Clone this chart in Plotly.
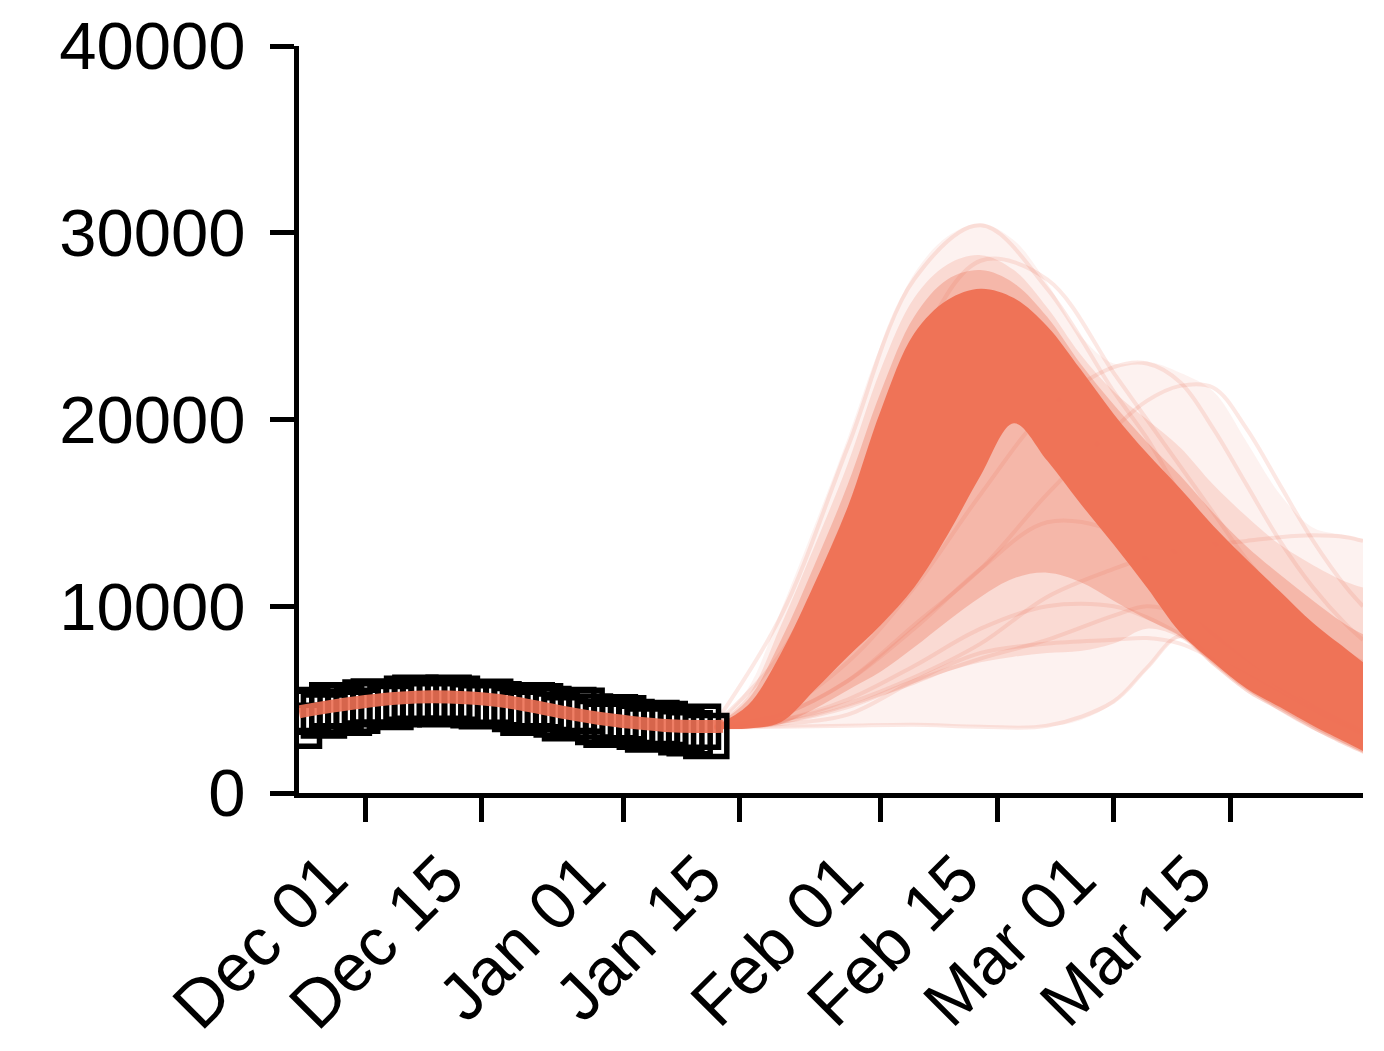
import plotly.graph_objects as go
import pandas as pd

# ---------------- data ----------------
obs_start = "2022-11-23"
obs_values = [3600, 4450, 4350, 4150, 4700, 4650, 4300, 4400, 4850, 4900,
              4750, 4600, 4750, 5050, 5100, 4950, 4800, 4750, 5100, 5050,
              4850, 4700, 4650, 4880, 4750, 4700, 4500, 4300, 4700, 4650,
              4500, 4200, 4000, 4450, 4400, 4100, 3800, 3650, 4050, 4000,
              3800, 3550, 3400, 3750, 3700, 3500, 3250, 3200, 3550, 3050]

fit_dates = ["2022-11-23", "2022-11-27", "2022-12-01", "2022-12-05", "2022-12-09",
             "2022-12-13", "2022-12-17", "2022-12-21", "2022-12-25", "2022-12-29",
             "2023-01-02", "2023-01-06", "2023-01-10", "2023-01-13"]
fit_values = [4350, 4650, 4900, 5080, 5150, 5100, 4950, 4650, 4300, 4000,
              3780, 3620, 3560, 3580]

fc_dates = ["2023-01-12", "2023-01-16", "2023-01-20", "2023-01-24", "2023-01-28",
            "2023-02-01", "2023-02-05", "2023-02-09", "2023-02-13", "2023-02-17",
            "2023-02-21", "2023-02-25", "2023-03-01", "2023-03-05", "2023-03-09",
            "2023-03-13", "2023-03-17", "2023-03-21", "2023-03-25", "2023-03-29",
            "2023-03-31"]
# outer (faint) envelope of all trajectories
faint_upper = [3700, 5600, 9800, 14300, 19000, 24000, 27800, 29800, 30500, 29600,
               27300, 24500, 23000, 23100, 22500, 21500, 18800, 16000, 14200, 13800, 13600]
faint_lower = [3450, 3450, 3500, 3550, 3600, 3650, 3650, 3600, 3550, 3500,
               3550, 3900, 4800, 6600, 8300, 6800, 5400, 4400, 3400, 2500, 2100]
# light envelope
semi_upper = [3650, 5200, 9000, 13200, 17600, 22700, 26500, 28300, 28800, 28000,
              26000, 23500, 21500, 20000, 18500, 16500, 14800, 13300, 12200, 11300, 11000]
semi_lower = [3450, 3500, 3700, 4100, 4600, 5200, 5800, 6500, 7000, 7300,
              7500, 7600, 8000, 8800, 8300, 6800, 5400, 4400, 3400, 2500, 2100]
# medium envelope
mid_upper = [3620, 5000, 8200, 12200, 16500, 21500, 25500, 27500, 28000, 27300,
             25500, 23000, 20800, 18800, 17000, 15000, 13200, 11700, 10300, 9000, 8500]
mid_lower = [3450, 3450, 3700, 4500, 5500, 6500, 7800, 9200, 10500, 11500,
             11800, 11300, 10300, 9300, 8400, 6900, 5500, 4500, 3500, 2600, 2150]
# dense core
dense_upper = [3600, 4700, 7500, 11200, 15300, 20500, 24600, 26400, 27000, 26500,
               25000, 22700, 20300, 18200, 16300, 14300, 12500, 10800, 9100, 7700, 7000]
dense_lower = [3450, 3450, 3800, 5500, 7300, 9000, 11000, 13800, 17000, 19800,
               17800, 15500, 13300, 11000, 8600, 7000, 5600, 4600, 3600, 2700, 2250]

# individual trajectories visible outside the core
traj_dates = ["2023-01-12", "2023-01-20", "2023-01-28", "2023-02-05", "2023-02-13",
              "2023-02-21", "2023-03-01", "2023-03-05", "2023-03-09", "2023-03-13",
              "2023-03-17", "2023-03-21", "2023-03-25", "2023-03-29", "2023-03-31"]
traj_a = [3500, 3550, 3600, 3650, 3550, 3600, 4900, 6700, 8400, 7100, 5700, 4500, 3500, 2700, 2300]
traj_b = [3600, 4500, 7000, 11000, 16000, 20500, 22800, 23000, 22000, 19500, 16500, 13500, 11000, 9000, 8200]
traj_c = [3550, 4200, 6000, 9000, 12000, 16000, 19500, 21000, 21800, 21700, 19500, 16500, 13500, 11000, 10000]
traj_d = [3500, 3900, 4800, 6200, 8000, 10500, 12000, 12600, 13000, 13300, 13500, 13700, 13800, 13700, 13500]
traj_e = [3700, 9500, 18500, 27500, 30400, 27000, 21500, 19000, 16000, 13500, 11000, 9000, 7500, 6200, 5500]
traj_f = [3500, 3900, 5000, 6800, 8800, 10000, 10000, 9400, 8500, 7500, 6500, 5500, 4500, 3600, 3200]
traj_g = [3500, 3700, 4200, 6000, 7500, 8000, 8200, 8300, 8000, 7200, 6300, 5300, 4300, 3500, 3100]
traj_h = [3550, 5500, 11000, 18000, 22000, 21500, 17500, 15000, 12500, 10500, 8600, 7000, 5600, 4600, 4100]
traj_i = [3650, 7500, 15000, 23500, 28500, 27500, 22500, 20000, 17500, 15000, 12500, 10500, 8800, 7500, 7000]
traj_j = [3500, 4200, 6000, 8800, 12000, 14500, 14000, 12500, 10500, 8500, 7000, 5700, 4600, 3700, 3300]
traj_k = [3500, 3800, 4600, 6000, 7200, 8200, 9500, 10000, 9600, 8500, 7200, 6000, 4800, 3800, 3400]
trajectories = [traj_a, traj_b, traj_c, traj_d, traj_e, traj_f, traj_g, traj_h,
                traj_i, traj_j, traj_k]

y_ticks = [0, 10000, 20000, 30000, 40000]
x_ticks = ["2022-12-01", "2022-12-15", "2023-01-01", "2023-01-15",
           "2023-02-01", "2023-02-15", "2023-03-01", "2023-03-15"]
x_range = ["2022-11-23", "2023-03-31"]

# ---------------- style ----------------
RED = "rgb(238,113,85)"
FONT = "Liberation Sans, Arial, sans-serif"


def rgba(a):
    return f"rgba(238,113,85,{a})"


obs_dates = pd.date_range(obs_start, periods=len(obs_values), freq="D")

fig = go.Figure()


def band(lower, upper, alpha, smooth=1.0):
    fig.add_trace(go.Scatter(x=fc_dates, y=lower, mode="lines",
                             line=dict(width=0, shape="spline", smoothing=smooth),
                             showlegend=False, hoverinfo="skip"))
    fig.add_trace(go.Scatter(x=fc_dates, y=upper, mode="lines", fill="tonexty",
                             fillcolor=rgba(alpha),
                             line=dict(width=0, shape="spline", smoothing=smooth),
                             showlegend=False, hoverinfo="skip"))


band(faint_lower, faint_upper, 0.09)
band(semi_lower, semi_upper, 0.18)

for tr in trajectories:
    fig.add_trace(go.Scatter(x=traj_dates, y=tr, mode="lines",
                             line=dict(color=rgba(0.16), width=4, shape="spline"),
                             showlegend=False, hoverinfo="skip"))

band(mid_lower, mid_upper, 0.33)
band(dense_lower, dense_upper, 0.97)

# observations
fig.add_trace(go.Scatter(x=obs_dates, y=obs_values, mode="markers",
                         marker=dict(symbol="square-open", size=41, color="black",
                                     line=dict(width=5.5, color="black")),
                         showlegend=False, hoverinfo="skip"))

# fitted line
fig.add_trace(go.Scatter(x=fit_dates, y=fit_values, mode="lines",
                         line=dict(color=RED, width=13, shape="spline"),
                         opacity=0.9, showlegend=False, hoverinfo="skip"))

axis_common = dict(showline=True, linecolor="black", linewidth=5,
                   ticks="outside", ticklen=24, tickwidth=5, tickcolor="black",
                   showgrid=False, zeroline=False, automargin=False,
                   tickfont=dict(family=FONT, size=67, color="black"))

fig.update_xaxes(type="date", range=x_range, tickvals=x_ticks,
                 tickformat="%b %d", tickangle=-45,
                 ticklabelshift=-38, ticklabelstandoff=-10, **axis_common)
fig.update_yaxes(range=[0, 40000], tickvals=y_ticks, tickformat="d",
                 ticklabelstandoff=11, **axis_common)

fig.update_layout(width=1376, height=1043,
                  margin=dict(l=291, r=21, t=38, b=258),
                  plot_bgcolor="white", paper_bgcolor="white",
                  font=dict(family=FONT, color="black"))

fig.write_html("out.html")
